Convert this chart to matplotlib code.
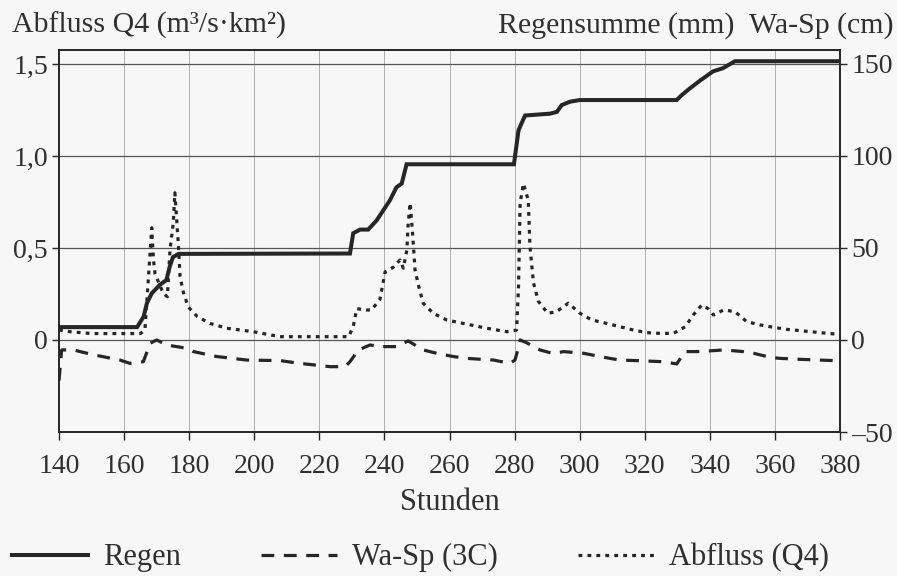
import numpy as np
import matplotlib.pyplot as plt
from matplotlib.lines import Line2D

# ---- Daten ----
# Regensumme (mm), rechte Achse
regen_h = [140, 164, 166, 167, 168.5, 171, 173, 174, 175, 176.7, 229.4, 230.4,
           232.5, 235, 237.6, 241.7, 243.7, 245.3, 246.8, 279.8, 281.2, 283.2,
           290.9, 293, 294.5, 297, 300, 329.8, 331.3, 333.9, 337, 341, 344,
           347.7, 380]
regen_mm = [7, 7, 12.7, 20, 25.4, 30, 32.6, 39.8, 45, 46.8, 47, 58,
            60, 60, 65, 76, 83, 85, 95.5, 95.5, 114, 122,
            123, 124, 127.7, 129.5, 130.4, 130.4, 133, 136.8, 141, 146, 147.7,
            151.5, 151.5]

# Abfluss Q4 (m3/s km2), linke Achse
abfl_h = [140, 143.4, 150, 160, 165, 166.4, 168.5, 169, 169.5, 172, 173.3,
          174.1, 175.1, 175.6, 176.7, 177.2, 178.2, 179.7, 182.5, 186.4, 191.5,
          199.7, 207.9, 229, 230.4, 231.5, 234.5, 236, 238.6, 240.2, 242.7,
          244.8, 245.8, 246.9, 247.3, 247.9, 248.6, 249.4, 250.7, 251.9, 255,
          259.1, 264.2, 271.4, 277.6, 280.6, 281.2, 281.7, 282.7, 284.2, 284.7,
          285.8, 287.3, 290.2, 292.9, 296.5, 300.1, 303.7, 308.3, 312.4, 316.5,
          320.6, 324.7, 328.8, 332.4, 334.9, 337.5, 339.5, 341.1, 344.2, 347.7,
          351.3, 355.4, 359.5, 363.6, 368.2, 373.9, 380]
abfl_q = [0.055, 0.045, 0.035, 0.035, 0.035, 0.054, 0.61, 0.44, 0.36, 0.254, 0.235,
          0.49, 0.634, 0.8, 0.51, 0.344, 0.26, 0.18, 0.127, 0.09, 0.064,
          0.045, 0.018, 0.018, 0.072, 0.17, 0.163, 0.163, 0.22, 0.37, 0.395,
          0.435, 0.39, 0.49, 0.634, 0.745, 0.59, 0.38, 0.28, 0.2, 0.145,
          0.109, 0.09, 0.064, 0.045, 0.054, 0.29, 0.745, 0.85, 0.76, 0.51,
          0.31, 0.21, 0.145, 0.154, 0.2, 0.145, 0.109, 0.09, 0.072, 0.054,
          0.04, 0.036, 0.036, 0.072, 0.136, 0.19, 0.17, 0.136, 0.163, 0.154,
          0.1, 0.082, 0.069, 0.058, 0.05, 0.04, 0.03]

# Wasserspiegel 3C (cm), rechte Achse
wasp_h = [140, 140.8, 144.4, 150.5, 158.7, 161.8, 165.9, 168, 170, 173.1, 179.2,
          181.3, 188.5, 197.7, 207.9, 214, 223.3, 227.9, 229.4, 232, 235.6,
          238.6, 243.8, 246.8, 247.3, 251.9, 256, 261.2, 265.3, 273.5, 278.6,
          280.1, 280.7, 281.7, 283.7, 285.8, 287.8, 291.9, 295, 301.1, 309.3,
          312.4, 317.5, 325.7, 329.8, 332.4, 336, 341.1, 344.2, 350.3, 353.4,
          358.5, 361.6, 367.7, 378, 380]
wasp_cm = [-22, -5.4, -5.4, -8, -10.9, -12.7, -11.8, -1.8, 0, -2.7, -4.5,
           -6.3, -9, -10.9, -11.2, -12.7, -14.5, -14.5, -11.8, -5.4, -2.7,
           -3.6, -3.6, -0.9, -0.5, -5.4, -7.2, -9, -10, -10.9, -12.7,
           -10.9, -7.2, 0, -1.5, -3.6, -5.4, -7.4, -6.3, -7.2, -10,
           -10.9, -11.2, -11.8, -13, -6.3, -6.3, -5.8, -5.4, -6.3, -7.2,
           -9.4, -10, -10.5, -11.2, -11.5]

x_ticks = list(range(140, 381, 20))
left_ticks = [0, 0.5, 1.0, 1.5]
left_labels = ['0', '0,5', '1,0', '1,5']
right_ticks = [-50, 0, 50, 100, 150]
right_labels = ['–50', '0', '50', '100', '150']

# ---- Stil ----
plt.rcParams['font.family'] = ['Liberation Serif', 'DejaVu Serif']
plt.rcParams['font.size'] = 20
ink = '#262626'
txt = '#303030'
bg = '#f7f7f7'
lw = 2.3

fig = plt.figure(figsize=(8.97, 5.76), dpi=100, facecolor=bg)
ax = fig.add_axes([0.0658, 0.25, 0.8707, 0.6632])
ax.set_facecolor(bg)
ax2 = ax.twinx()

# Gitter
for xv in x_ticks[1:-1]:
    ax.axvline(xv, color='#b0b0b0', lw=0.7, zorder=0)
for yv in left_ticks:
    ax.axhline(yv, color='#555555', lw=0.9, zorder=0)

ax.plot(abfl_h, abfl_q, color=ink, lw=lw, linestyle=(0, (1.2, 1.6)))
ax2.plot(regen_h, regen_mm, color=ink, lw=lw + 0.6, solid_joinstyle='miter')
ax2.plot(wasp_h, wasp_cm, color=ink, lw=lw, linestyle=(0, (4, 3)))

ax.set_xlim(140, 380)
ax.set_ylim(-0.5, 1.576)
ax2.set_ylim(-50, 157.6)

ax.set_xticks(x_ticks)
ax.set_yticks(left_ticks)
ax.set_yticklabels(left_labels)
ax2.set_yticks(right_ticks)
ax2.set_yticklabels(right_labels)

for a in (ax, ax2):
    for s in a.spines.values():
        s.set_color(ink)
        s.set_linewidth(1.2)
    a.tick_params(colors=ink, labelcolor=txt, labelsize=20, length=5, width=1.0, pad=3)
ax.tick_params(axis='x', length=6, pad=10)

ax.set_xlabel('Stunden', color=txt, fontsize=22, labelpad=6)

fig.text(0.013, 0.943, 'Abfluss Q4 (m³/s·km²)', color=txt, fontsize=21.5,
         ha='left', va='baseline')
fig.text(0.996, 0.943, 'Regensumme (mm)  Wa-Sp (cm)', color=txt, fontsize=21.5,
         ha='right', va='baseline')

handles = [Line2D([], [], color=ink, lw=lw + 0.6),
           Line2D([], [], color=ink, lw=lw, linestyle=(0, (4, 3))),
           Line2D([], [], color=ink, lw=lw, linestyle=(0, (1.2, 1.6)))]
fig.legend(handles, ['Regen', 'Wa-Sp (3C)', 'Abfluss (Q4)'], loc='center left',
           bbox_to_anchor=(0.013, 0.032), ncol=3, frameon=False, fontsize=22,
           handlelength=2.5, handletextpad=0.5, columnspacing=2.6,
           borderpad=0, borderaxespad=0, labelcolor=txt)

fig.savefig('out.png', dpi=100, facecolor=bg)
